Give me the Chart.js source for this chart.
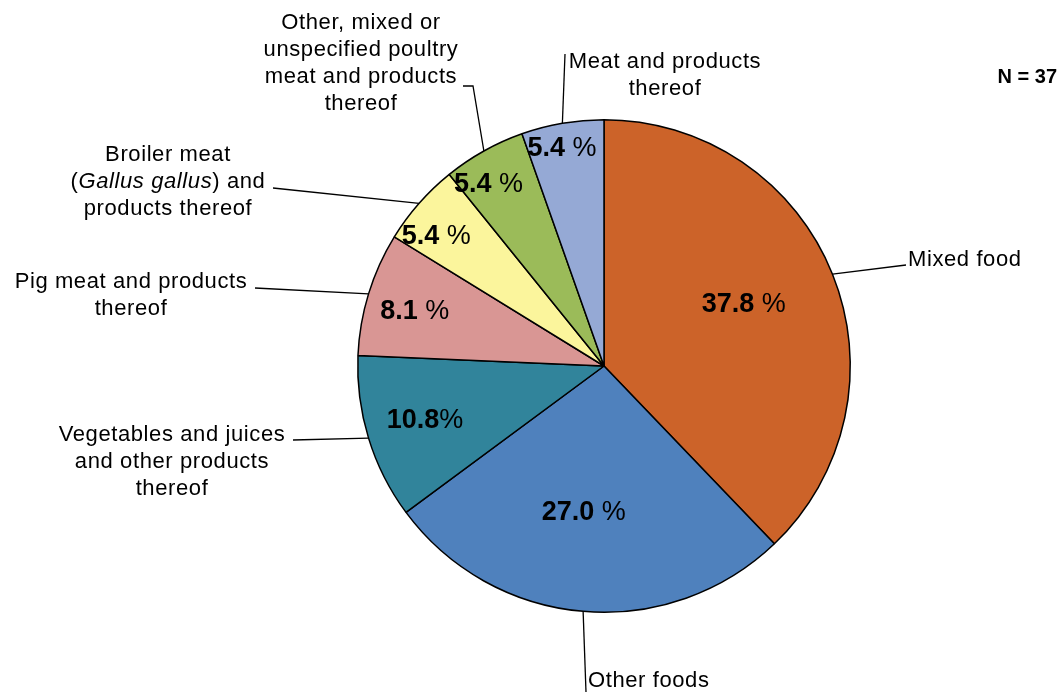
<!DOCTYPE html>
<html>
<head>
<meta charset="utf-8">
<script src="https://cdn.jsdelivr.net/npm/chart.js@4.4.1/dist/chart.umd.min.js"></script>
<style>
  body { margin: 0; background: #fff; }
  #wrap { width: 1060px; height: 693px; position: relative; }
</style>
</head>
<body>
<div id="wrap"><canvas id="pie" width="1060" height="693"></canvas></div>
<script>
// Food vehicles, N = 37 outbreaks
const categories = [
  'Mixed food',
  'Other foods',
  'Vegetables and juices and other products thereof',
  'Pig meat and products thereof',
  'Broiler meat (Gallus gallus) and products thereof',
  'Other, mixed or unspecified poultry meat and products thereof',
  'Meat and products thereof'
];
const counts = [14, 10, 4, 3, 2, 2, 2];
const totalN = 37;

// text shown next to each slice, _..._ marks italic
const labelLines = [
  ['Mixed food'],
  ['Other foods'],
  ['Vegetables and juices', 'and other products', 'thereof'],
  ['Pig meat and products', 'thereof'],
  ['Broiler meat', '(_Gallus gallus_) and', 'products thereof'],
  ['Other, mixed or', 'unspecified poultry', 'meat and products', 'thereof'],
  ['Meat and products', 'thereof']
];
const pctSuffix = [' %', ' %', '%', ' %', ' %', ' %', ' %'];

const colors = ['#CC6329', '#4F81BD', '#31849B', '#D99694', '#FBF59C', '#9BBB59', '#95A9D5'];

// layout of the outside labels (leader line bends + text anchor)
const labelLayout = [
  { path: [[906, 265]], x: 908, y: 260, align: 'left' },
  { path: [[586, 692]], x: 588, y: 681, align: 'left' },
  { path: [[293, 440]], x: 172, y: 435, align: 'center' },
  { path: [[255, 288]], x: 131, y: 282, align: 'center' },
  { path: [[273, 188]], x: 168, y: 155, align: 'center' },
  { path: [[473, 86], [463, 86]], x: 361, y: 23, align: 'center' },
  { path: [[565, 54]], x: 665, y: 62, align: 'center' }
];
// inside percent labels: radius fraction and angle nudge (deg)
const pctPos = [[0.62, -1.8], [0.6, 3], [0.76, 0], [0.8, -1], [0.86, -3.7], [0.875, -3.2], [0.9, -1.2]];

const FONT = '"Liberation Sans", Arial, sans-serif';

function drawRich(ctx, text, x, y, align) {
  // split into normal / italic parts
  const parts = text.split('_').map((t, i) => ({ t, it: i % 2 === 1 }));
  const fontOf = p => (p.it ? 'italic ' : '') + '22px ' + FONT;
  let w = 0;
  parts.forEach(p => { ctx.font = fontOf(p); w += ctx.measureText(p.t).width; });
  let cx = align === 'center' ? x - w / 2 : x;
  parts.forEach(p => {
    ctx.font = fontOf(p);
    ctx.fillText(p.t, cx, y);
    cx += ctx.measureText(p.t).width;
  });
}

const labelsPlugin = {
  id: 'pieLabels',
  afterDraw(chart) {
    const ctx = chart.ctx;
    const arcs = chart.getDatasetMeta(0).data;
    ctx.save();
    ctx.textBaseline = 'middle';
    ctx.textAlign = 'left';
    ctx.fillStyle = '#000';
    ctx.strokeStyle = '#000';
    ctx.lineWidth = 1.3;
    arcs.forEach((arc, i) => {
      const { x, y, startAngle, endAngle, outerRadius } = arc.getProps(['x', 'y', 'startAngle', 'endAngle', 'outerRadius'], true);
      const mid = (startAngle + endAngle) / 2;
      // leader line
      const lay = labelLayout[i];
      ctx.beginPath();
      ctx.moveTo(x + Math.cos(mid) * outerRadius, y + Math.sin(mid) * outerRadius);
      lay.path.forEach(p => ctx.lineTo(p[0], p[1]));
      ctx.stroke();
      ctx.letterSpacing = '0.6px';
      labelLines[i].forEach((ln, k) => drawRich(ctx, ln, lay.x, lay.y + k * 27, lay.align));

      // percent inside slice
      ctx.letterSpacing = '0px';
      const pct = (counts[i] / totalN * 100).toFixed(1);
      const a = mid + pctPos[i][1] * Math.PI / 180;
      const r = outerRadius * pctPos[i][0];
      const px = x + Math.cos(a) * r, py = y + Math.sin(a) * r;
      ctx.font = 'bold 27px ' + FONT;
      const w1 = ctx.measureText(pct).width;
      ctx.font = '27px ' + FONT;
      const w2 = ctx.measureText(pctSuffix[i]).width;
      let sx = px - (w1 + w2) / 2;
      ctx.font = 'bold 27px ' + FONT;
      ctx.fillText(pct, sx, py);
      ctx.font = '27px ' + FONT;
      ctx.fillText(pctSuffix[i], sx + w1, py);
    });
    ctx.letterSpacing = '0px';
    ctx.font = 'bold 20px ' + FONT;
    ctx.textAlign = 'right';
    ctx.fillText('N = ' + totalN, 1057, 77);
    ctx.restore();
  }
};

new Chart(document.getElementById('pie'), {
  type: 'pie',
  data: {
    labels: categories,
    datasets: [{
      data: counts,
      backgroundColor: colors,
      borderColor: '#000',
      borderWidth: 1.5
    }]
  },
  options: {
    responsive: false,
    animation: false,
    layout: { padding: { left: 357, right: 209, top: 119, bottom: 80 } },
    plugins: { legend: { display: false }, tooltip: { enabled: false } }
  },
  plugins: [labelsPlugin]
});
</script>
</body>
</html>
